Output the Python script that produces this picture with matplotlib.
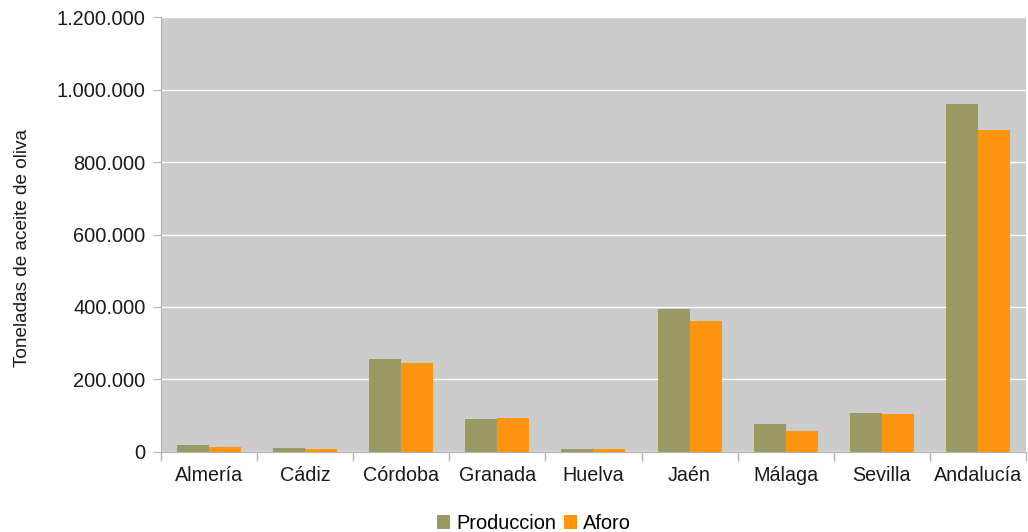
import matplotlib
matplotlib.use('Agg')
import matplotlib.pyplot as plt
import numpy as np
from matplotlib.ticker import FuncFormatter

plt.rcParams['font.family'] = ['Liberation Sans', 'DejaVu Sans']

provincias = ['Almería', 'Cádiz', 'Córdoba', 'Granada', 'Huelva', 'Jaén',
              'Málaga', 'Sevilla', 'Andalucía']
produccion = [19000, 11000, 256000, 91000, 8000, 394000, 77000, 107000, 959000]
aforo = [14000, 8000, 245000, 94000, 7500, 361000, 58000, 105000, 887000]

fig = plt.figure(figsize=(10.28, 5.32), dpi=100)
ax = fig.add_axes([0.1566, 0.1504, 0.8414, 0.8176])

x = np.arange(len(provincias))
w = 1 / 3
ax.bar(x - w / 2, produccion, w, color='#9c9a64', label='Produccion', zorder=3)
ax.bar(x + w / 2, aforo, w, color='#ff950e', label='Aforo', zorder=3)

ax.set_facecolor('#cccccc')
ax.set_xlim(-0.5, len(provincias) - 0.5)
ax.set_ylim(0, 1200000)
ax.set_yticks(np.arange(0, 1200001, 200000))
ax.yaxis.set_major_formatter(FuncFormatter(lambda v, p: f'{int(v):,}'.replace(',', '.')))
ax.grid(axis='y', color='white', linewidth=1, zorder=1)

ax.set_xticks(x)
ax.set_xticklabels(provincias)
ax.set_xticks(np.arange(-0.5, len(provincias), 1), minor=True)
ax.tick_params(axis='x', which='major', length=0, pad=10, labelsize=14.2, colors='#1a1a1a')
ax.tick_params(axis='x', which='minor', length=6.5, color='#b3b3b3', width=1)
ax.tick_params(axis='y', length=6, color='#b3b3b3', labelsize=14.4, labelcolor='#1a1a1a', pad=5)

for s in ['top', 'right']:
    ax.spines[s].set_visible(False)
for s in ['left', 'bottom']:
    ax.spines[s].set_color('#b3b3b3')

ax.set_ylabel('Toneladas de aceite de oliva', fontsize=13.7, color='#1a1a1a')
ax.yaxis.set_label_coords(-0.150, 0.47)

fig.legend(loc='center', bbox_to_anchor=(0.5195, 0.016), ncol=2, frameon=False,
           fontsize=14.4, handlelength=0.65, handleheight=0.65, handletextpad=0.3,
           columnspacing=0.4, borderpad=0)

plt.savefig('out.png', dpi=100)
